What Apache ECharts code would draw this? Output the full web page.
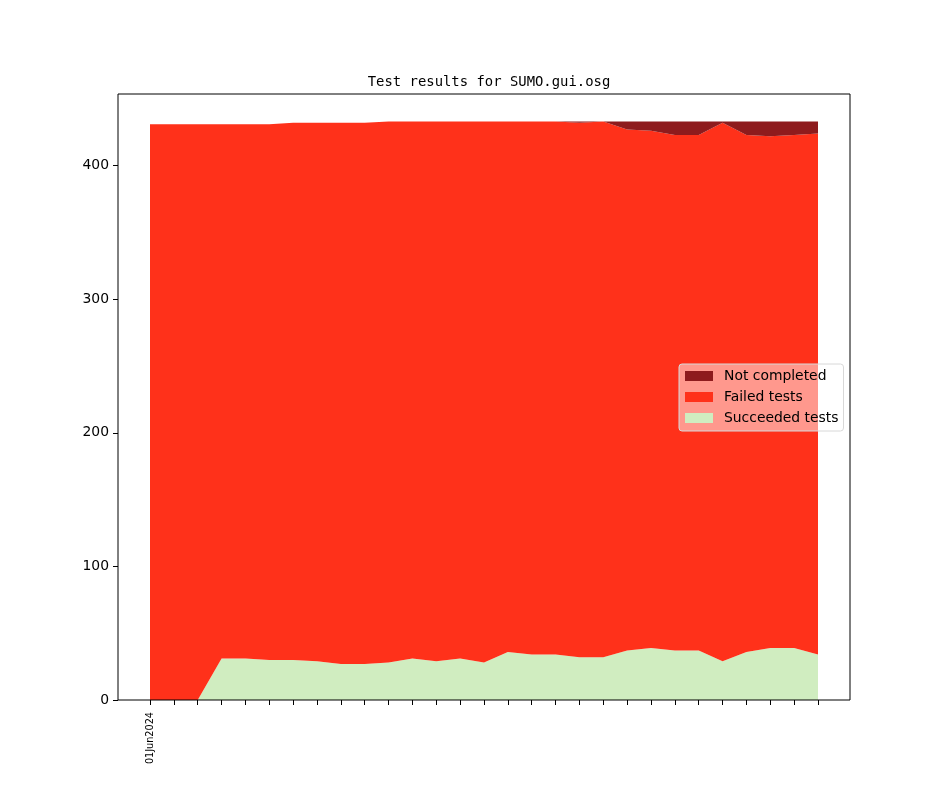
<!DOCTYPE html>
<html>
<head>
<meta charset="utf-8">
<script src="https://cdn.jsdelivr.net/npm/echarts@6/dist/echarts.min.js"></script>
<style>html,body{margin:0;padding:0;background:#fff}#c{width:944px;height:787px}</style>
</head>
<body>
<div id="c"></div>
<script>
const dates = ["01Jun2024"];
const succeeded = [0,0,0,31,31,30,30,29,27,27,28,31,29,31,28,36,34,34,32,32,37,39,37,37,29,36,39,39,34];
const failedTop = [431,431,431,431,431,431,432,432,432,432,433,433,433,433,433,433,433,433,432,433,427,426,423,423,432,423,422,423,424];
const totals =    [431,431,431,431,431,431,432,432,432,432,433,433,433,433,433,433,433,433,433,433,433,433,433,433,433,433,433,433,433];
const failed = failedTop.map((v,i)=>v-succeeded[i]);
const notCompleted = totals.map((v,i)=>v-failedTop[i]);
const yTicks = [0,100,200,300,400];
const categories = succeeded.map((_,i)=>i===0?dates[0]:'d'+i);

const font = 'DejaVu Sans';
const mk = (name, data, color) => ({
  name, type:'line', stack:'all', data, symbol:'none', xAxisIndex:0, yAxisIndex:0,
  lineStyle:{width:0}, areaStyle:{color, opacity:1}, itemStyle:{color},
  emphasis:{disabled:true}, animation:false
});
const chart = echarts.init(document.getElementById('c'), null, {renderer:'canvas'});
chart.setOption({
  animation:false,
  title:{text:'Test results for SUMO.gui.osg', left:484, textAlign:'center', top:70,
    textStyle:{fontFamily:'DejaVu Sans Mono', fontSize:13.9, fontWeight:'normal', color:'#000'}},
  grid:[
    {left:150, top:94, width:668, height:606, show:false},
    {left:118, top:94, width:732, height:606, show:true, borderColor:'#000', borderWidth:1, backgroundColor:'transparent', z:10}
  ],
  legend:{orient:'vertical', left:679, top:364, data:['Not completed','Failed tests','Succeeded tests'],
    backgroundColor:'rgba(255,255,255,0.5)', borderColor:'#d8d8d8', borderWidth:1, borderRadius:3,
    padding:[5,5,6,6], itemWidth:28, itemHeight:10, itemGap:7, icon:'rect',
    textStyle:{fontFamily:font, fontSize:13.9, color:'#000', padding:[0,0,0,6]}},
  xAxis:[
    {type:'category', gridIndex:0, data:categories, boundaryGap:false, axisLine:{show:false}, splitLine:{show:false},
      axisTick:{show:true, length:5, interval:0, lineStyle:{color:'#000'}},
      axisLabel:{show:true, interval:0, rotate:90, margin:12, formatter:(v,i)=>i===0?v:'',
        fontFamily:font, fontSize:9.7, color:'#000'}},
    {type:'value', gridIndex:1, show:false}
  ],
  yAxis:[
    {type:'value', gridIndex:0, min:0, max:453.6, offset:32, axisLine:{show:false}, splitLine:{show:false},
      axisTick:{show:true, length:5, customValues:yTicks, lineStyle:{color:'#000'}},
      axisLabel:{show:true, customValues:yTicks, margin:9, fontFamily:font, fontSize:13.9, color:'#000'}},
    {type:'value', gridIndex:1, show:false}
  ],
  series:[
    mk('Succeeded tests', succeeded, '#D0EDC0'),
    mk('Failed tests', failed, '#FF311A'),
    mk('Not completed', notCompleted, '#8E1B1D')
  ]
});
</script>
</body>
</html>
